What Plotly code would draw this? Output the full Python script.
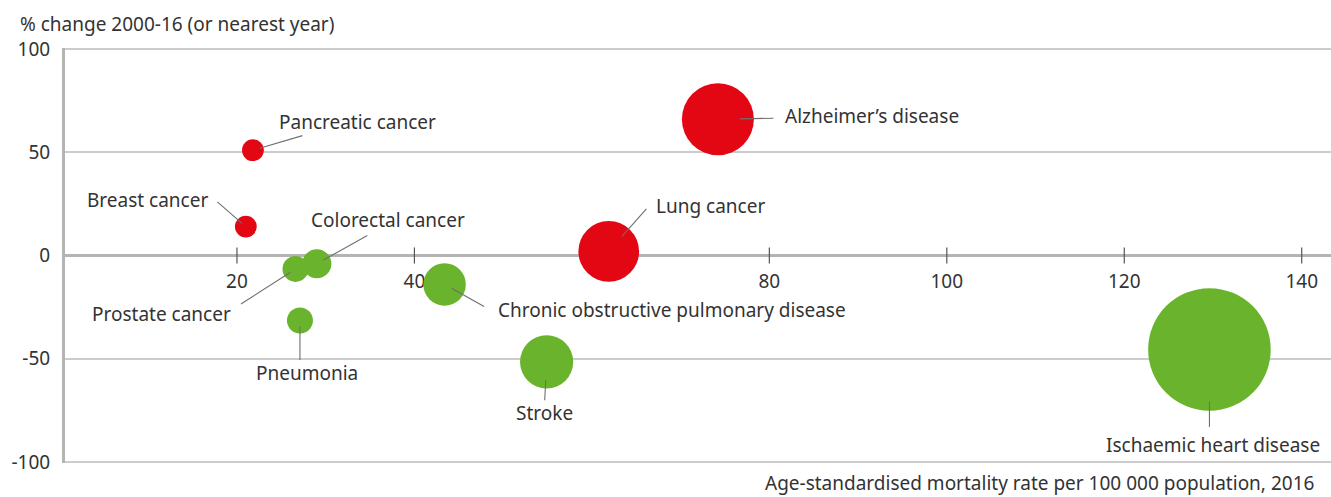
import plotly.graph_objects as go

# ---- data ----
causes = ["Pancreatic cancer", "Breast cancer", "Colorectal cancer", "Prostate cancer",
          "Pneumonia", "Chronic obstructive pulmonary disease", "Lung cancer",
          "Alzheimer’s disease", "Stroke", "Ischaemic heart disease"]
mortality_rate = [21.8, 21.0, 29.0, 26.6, 27.1, 43.4, 61.9, 74.2, 54.9, 129.6]
pct_change = [51, 14, -4, -6.5, -31.5, -14, 2, 66, -51.5, -45.5]
bubble_value = [19, 19, 34, 27, 27, 72, 147, 207, 113, 600]   # relative magnitude (bubble area)
x_ticks = [20, 40, 60, 80, 100, 120, 140]
x_ticklabels = ["20", "40", "", "80", "100", "120", "140"]
y_ticks = [-100, -50, 0, 50, 100]
y_ticklabels = ["-100", "-50", "0", "50", "100"]

# ---- styles / label placement (pixel offsets from bubble centre) ----
RED = "#e30613"
GREEN = "#6ab42d"
TEXT = "#333333"
FONT = "Noto Sans"
FS = 19
MAX_D = 122.6
# (text dx, text dy up, anchor, line inner standoff, line outer dx, line outer dy(down))
label_layout = {
    "Pancreatic cancer": (24, 28, "left", 7, 51, -15),
    "Breast cancer": (-36, 27, "right", 5, -30, -26),
    "Colorectal cancer": (-8, 44, "left", 7, 52, -29),
    "Prostate cancer": (-63, -45, "right", 6, -56, 36),
    "Pneumonia": (7, -52, "center", 6, 0, 41),
    "Chronic obstructive pulmonary disease": (51, -26, "left", 8, 41, 23),
    "Lung cancer": (45, 45, "left", 20, 39, -44),
    "Alzheimer’s disease": (65, 3, "left", 22, 57, -1),
    "Stroke": (-2, -51, "center", 18, -2, 40),
    "Ischaemic heart disease": (4, -96, "center", 52, 0, 79),
}

fig = go.Figure()

# crossing tick marks on the zero line, built from the tick values
tick_half = 3.9
tx, ty = [], []
for v in x_ticks:
    tx += [v, v, None]
    ty += [-tick_half, tick_half, None]
fig.add_trace(go.Scatter(x=tx, y=ty, mode="lines", line=dict(color="#555555", width=1.2),
                         hoverinfo="skip", showlegend=False))

colors = [RED if c > 0 else GREEN for c in pct_change]
sizeref = 2 * max(bubble_value) / (MAX_D ** 2)
fig.add_trace(go.Scatter(
    x=mortality_rate, y=pct_change, mode="markers", text=causes,
    marker=dict(size=bubble_value, sizemode="area", sizeref=sizeref,
                color=colors, opacity=1, line=dict(width=0)),
    hovertemplate="%{text}<br>%{x}<br>%{y}%<extra></extra>", showlegend=False))

annotations = []
for name, xv, yv in zip(causes, mortality_rate, pct_change):
    tdx, tdy, anc, stand, lax, lay = label_layout[name]
    annotations.append(dict(x=xv, y=yv, xref="x", yref="y", text=name, showarrow=False,
                            xshift=tdx, yshift=tdy, xanchor=anc, yanchor="middle",
                            font=dict(family=FONT, size=FS, color=TEXT)))
    annotations.append(dict(x=xv, y=yv, xref="x", yref="y", text="", showarrow=True,
                            ax=lax, ay=lay, standoff=stand, arrowhead=0, arrowwidth=1.1,
                            arrowcolor="#6f6f6f"))

annotations.append(dict(x=18, y=23, xref="paper", yref="paper", text="% change 2000-16 (or nearest year)",
                        showarrow=False, xanchor="left", yanchor="middle",
                        font=dict(family=FONT, size=FS, color=TEXT)))
annotations.append(dict(x=1316, y=484, xref="paper", yref="paper",
                        text="Age-standardised mortality rate per 100 000 population, 2016",
                        showarrow=False, xanchor="right", yanchor="middle",
                        font=dict(family=FONT, size=FS, color=TEXT)))

# convert the two title positions from pixels to paper fractions
W, H = 1331, 497
ML, MR, MT, MB = 65, 0, 47.5, 33.5
for a in annotations[-2:]:
    a["x"] = (a["x"] - ML) / (W - ML - MR)
    a["y"] = 1 - (a["y"] - MT) / (H - MT - MB)

fig.update_layout(
    width=W, height=H,
    margin=dict(l=ML, r=MR, t=MT, b=MB, autoexpand=False),
    plot_bgcolor="white", paper_bgcolor="white",
    font=dict(family=FONT, size=FS, color=TEXT),
    annotations=annotations,
    xaxis=dict(range=[0.62, 143.3], tickvals=x_ticks, ticktext=x_ticklabels,
               showgrid=False, zeroline=False, showline=False,
               anchor="free", position=0.5, ticks="outside", ticklen=9,
               tickcolor="rgba(0,0,0,0)", layer="below traces",
               tickfont=dict(family=FONT, size=FS, color=TEXT)),
    yaxis=dict(range=[-100.5, 100.5], tickvals=y_ticks, ticktext=y_ticklabels,
               showgrid=True, gridcolor="#cccccc",
               gridwidth=1.5, zeroline=True, zerolinecolor="#b4b4b4", zerolinewidth=3,
               showline=True, linecolor="#b4b4b4", linewidth=3,
               ticks="outside", ticklen=8, tickcolor="rgba(0,0,0,0)",
               tickfont=dict(family=FONT, size=FS, color=TEXT)),
)

fig.write_html("out.html", config={"displayModeBar": False},
               post_script="document.body.style.margin='0px';")
